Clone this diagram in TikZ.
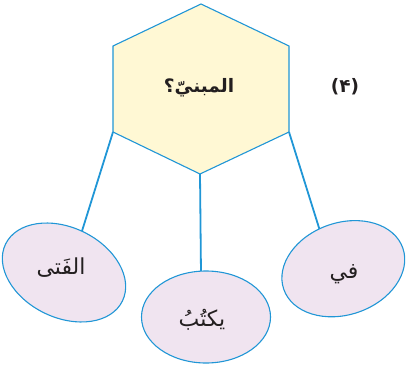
\documentclass[tikz,border=0pt]{standalone}
\usepackage{fontspec}
\TeXXeTstate=1
\newfontfamily\arabicfont[Script=Arabic]{DejaVu Sans}
\usetikzlibrary{shapes.geometric}
\definecolor{lineblue}{HTML}{2096D6}
\definecolor{hexfill}{HTML}{FFF8D4}
\definecolor{ovalfill}{HTML}{F0E4F0}
\definecolor{inkc}{HTML}{231F20}
\tikzset{
  hexbox/.style={draw=lineblue, line width=1.1pt, fill=hexfill, line join=miter},
  ovalbox/.style={draw=lineblue, line width=1.1pt, fill=ovalfill},
  connector/.style={draw=lineblue, line width=1.8pt},
  headtext/.style={text=inkc, font=\arabicfont\bfseries\fontsize{18.5}{22}\selectfont},
  wordtext/.style={text=inkc, font=\arabicfont\fontsize{22}{26}\selectfont},
}
\begin{document}
\begin{tikzpicture}[x=1pt,y=-1pt]
\useasboundingbox (0,0) rectangle (406,366);
% hexagon corners
\coordinate (hT) at (201,4);
\coordinate (hUL) at (113,46);
\coordinate (hLL) at (113,132);
\coordinate (hB) at (200,174);
\coordinate (hLR) at (289,132);
\coordinate (hUR) at (289,46);
% ellipse attachment points
\coordinate (eL) at (82,231);
\coordinate (eM) at (201,274);
\coordinate (eR) at (320,231);
% connectors
\draw[connector] (hLL) -- (eL);
\draw[connector] (hB) -- (eM);
\draw[connector] (hLR) -- (eR);
% hexagon
\path[hexbox] (hT) -- (hUR) -- (hLR) -- (hB) -- (hLL) -- (hUL) -- cycle;
\node[headtext] (head) at (199,88) {\beginR المبنيّ؟\endR};
\node[headtext] (num) at (345,87) {(۴)};
% ellipses
\path[ovalbox, rotate around={-26:(64,272.5)}] (64,272.5) ellipse [x radius=65pt, y radius=45pt];
\path[ovalbox] (206,317) ellipse [x radius=64.5pt, y radius=46pt];
\path[ovalbox, rotate around={19:(343.3,268.7)}] (343.3,268.7) ellipse [x radius=63pt, y radius=46pt];
\node[wordtext] (w1) at (61,268) {\beginR الفَتى\endR};
\node[wordtext] (w2) at (202,320) {\beginR يكتُبُ\endR};
\node[wordtext] (w3) at (344,274) {\beginR في\endR};
\end{tikzpicture}
\end{document}
